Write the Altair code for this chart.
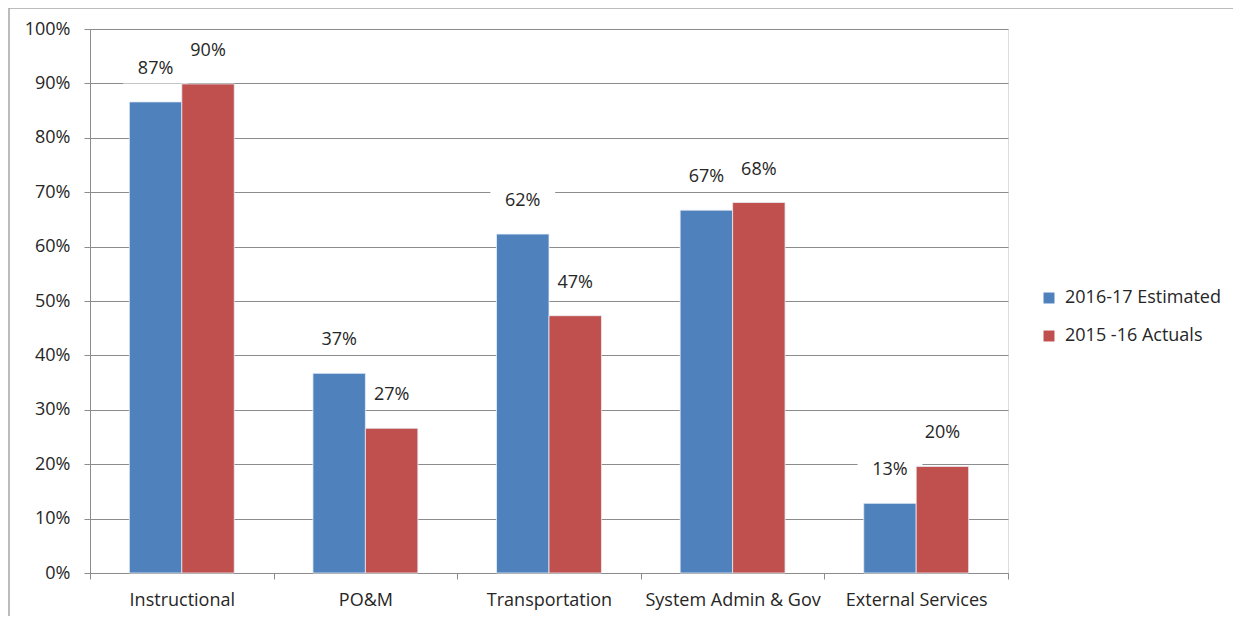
import altair as alt
import pandas as pd

categories = ["Instructional", "PO&M", "Transportation", "System Admin & Gov", "External Services"]
series = ["2016-17 Estimated", "2015 -16 Actuals"]
estimated = [0.866, 0.367, 0.623, 0.667, 0.128]
actuals = [0.899, 0.266, 0.473, 0.681, 0.196]
colors = ["#4F81BD", "#C0504D"]

rows = []
for c, e, a in zip(categories, estimated, actuals):
    rows.append({"category": c, "series": series[0], "value": e})
    rows.append({"category": c, "series": series[1], "value": a})
df = pd.DataFrame(rows)

FONT = "Open Sans"
FS = 18
TXT = "#262626"
GRID = "#8C8C8C"

x_enc = alt.X("category:N", sort=categories, title=None,
              scale=alt.Scale(paddingInner=0, paddingOuter=0),
              axis=alt.Axis(labelAngle=0, tickBand="extent", domainColor=GRID, tickColor=GRID,
                            tickSize=6, labelPadding=12, labelFontSize=FS, labelColor=TXT,
                            labelFont=FONT, grid=False))
xo_enc = alt.XOffset("series:N", sort=series,
                     scale=alt.Scale(paddingOuter=0.75, paddingInner=0))
y_enc = alt.Y("value:Q", title=None,
              scale=alt.Scale(domain=[0, 1], nice=False),
              axis=alt.Axis(format=".0%", values=[i / 10 for i in range(11)],
                            gridColor=GRID, domainColor=GRID, tickColor=GRID, tickSize=6,
                            labelPadding=14, labelFontSize=FS, labelColor=TXT, labelFont=FONT))
color_enc = alt.Color("series:N", sort=series,
                      scale=alt.Scale(domain=series, range=colors),
                      legend=alt.Legend(title=None, orient="none", legendX=950, legendY=260,
                                        symbolType="square", symbolSize=120, symbolStrokeWidth=0,
                                        labelFontSize=FS, labelFont=FONT, labelColor=TXT,
                                        rowPadding=20, labelOffset=7))

base = alt.Chart(df)

boxes = base.mark_point(
    shape="M-1,-0.45H1V0.45H-1Z", filled=True, color="white", opacity=1,
    size=4200, yOffset=-33
).encode(x=x_enc, xOffset=xo_enc, y=y_enc)

bars = base.mark_bar(stroke="#E8EEF6", strokeWidth=0.8).encode(
    x=x_enc, xOffset=xo_enc, y=y_enc, color=color_enc
)

labels = base.mark_text(dy=-33, fontSize=FS, font=FONT, color=TXT, baseline="middle").encode(
    x=x_enc, xOffset=xo_enc, y=y_enc, text=alt.Text("value:Q", format=".0%")
)

border_top = alt.Chart().mark_rule(color="#A6A6A6", strokeWidth=1.5).encode(
    x=alt.value(-81), x2=alt.value(1160), y=alt.value(-21)
)
border_left = alt.Chart().mark_rule(color="#A6A6A6", strokeWidth=1.5).encode(
    x=alt.value(-81), y=alt.value(-21), y2=alt.value(600)
)

chart = alt.layer(boxes, bars, labels, border_top, border_left).properties(
    width=918, height=544,
    autosize=alt.AutoSizeParams(type="none"),
    padding={"left": 82, "top": 21, "right": 225, "bottom": 43},
).configure_view(stroke=None).configure(background="white")

chart.save("out.html", embed_options={"renderer": "svg", "actions": False})
